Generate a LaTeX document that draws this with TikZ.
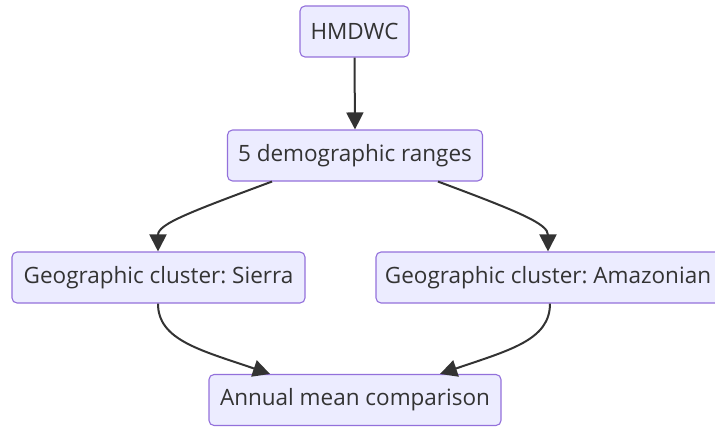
\documentclass[tikz,border=0pt]{standalone}
\usepackage{fontspec}
\setmainfont{Open Sans}
\usepackage{tikz}
\usetikzlibrary{arrows.meta}
\definecolor{boxfill}{HTML}{ECECFF}
\definecolor{boxline}{HTML}{9370DB}
\definecolor{ink}{HTML}{333333}
\frenchspacing
\tikzset{%
  >={Triangle[length=17pt,width=17pt]}, % mermaid like heads
  stepbox/.style={draw=boxline,fill=boxfill,line width=1.1pt,rounded corners=5pt,
  text=ink,inner sep=0pt,minimum height=51pt,font=\fontsize{22.5}{26}\selectfont},%
  flow/.style={->,draw=ink,line width=2pt}%
}
\begin{document}
\begin{tikzpicture}[x=1pt,y=-1pt]
    \useasboundingbox (0,0) rectangle (715,428);

    \node[stepbox,minimum width=109pt] (hmdwc) at (354.5,31.5) {HMDWC};
    \node[stepbox,minimum width=255pt] (ranges) at (355,155.5) {5 demographic ranges};
    \node[stepbox,minimum width=293pt] (sierra) at (158.5,277.5) {Geographic cluster: Sierra};
    \node[stepbox,minimum width=344pt] (amazon) at (548,277.5) {Geographic cluster: Amazonian};
    \node[stepbox,minimum width=292pt] (annual) at (355,400) {Annual mean comparison};

    % edges
    \draw[flow] (hmdwc.south) -- (ranges.north);
    \draw[flow] ([xshift=-83pt]ranges.south) .. controls (190,212) and (158,224) .. ([xshift=-0.5pt]sierra.north);
    \draw[flow] ([xshift=83pt]ranges.south) .. controls (520,212) and (548,224) .. (amazon.north);
    \draw[flow] ([xshift=-0.5pt]sierra.south) .. controls (158,340) and (200,350) .. ([xshift=-85pt]annual.north);
    \draw[flow] ([xshift=2pt]amazon.south) .. controls (550,340) and (510,350) .. ([xshift=85pt]annual.north);

\end{tikzpicture}
\end{document}
